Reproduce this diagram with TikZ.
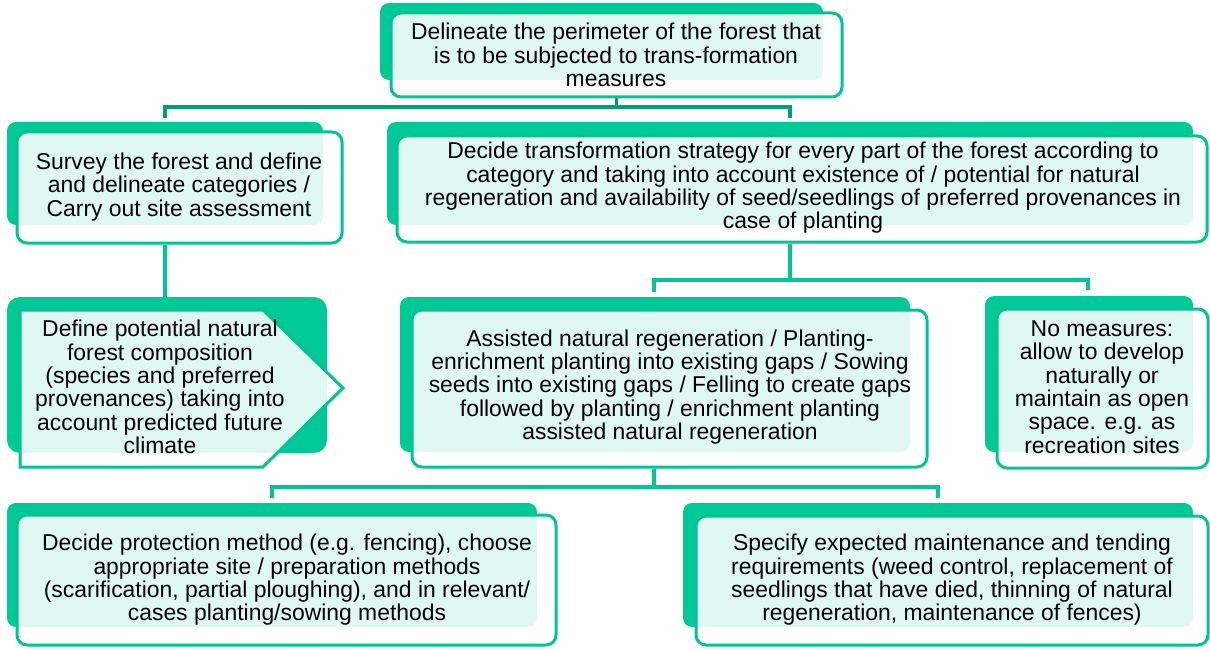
\documentclass[tikz,border=0pt]{standalone}
\usepackage{fontspec}
\setmainfont{Liberation Sans}
\usetikzlibrary{fit}
\definecolor{gback}{RGB}{0,200,150}
\definecolor{gline}{RGB}{0,196,148}
\definecolor{gdark}{RGB}{0,158,115}
\begin{document}
\begin{tikzpicture}[x=1pt,y=-1pt,
  back/.style={fill=gback, draw=none, rounded corners=9pt, inner sep=0pt},
  front/.style={draw=gline, line width=3pt, fill=white, fill opacity=0.88, rounded corners=10pt, inner sep=0pt},
  txt/.style={align=center, font=\fontsize{22.9}{23.3}\selectfont, text=black, inner sep=0pt},
  conn/.style={draw=gline, line width=3.2pt},
  connD/.style={draw=gdark, line width=3.2pt}]
\useasboundingbox (0,0) rectangle (1210,650);

% anchor coordinates for connectors
\coordinate (j1) at (616,107);
\coordinate (s2) at (165,118);
\coordinate (s3) at (790,118);
\coordinate (a2) at (165,0);
\coordinate (j3) at (790,280);
\coordinate (s5) at (654,292);
\coordinate (s6) at (1088,290);
\coordinate (j5) at (654,487);
\coordinate (s7) at (272,498);
\coordinate (s8) at (938,498);

% back boxes
\fill[back] (380,3) rectangle (823,80);
\fill[back] (7,122) rectangle (323,225);
\fill[back] (387,122) rectangle (1193,225);
\fill[back, rounded corners=13pt] (7,297) rectangle (327,453);
\fill[back] (400,297) rectangle (910,452);
\fill[back] (985,296) rectangle (1193,452);
\fill[back] (7,503) rectangle (537,627);
\fill[back] (683,503) rectangle (1193,627);

% front boxes
\node[front, fit={(391,13)(842,97)}] (f1) {};
\node[front, fit={(17,132)(342,243)}] (f2) {};
\node[front, fit={(397,136)(1207,242)}] (f3) {};
\path[front, rounded corners=0pt] (20,310) -- (263,310) -- (343,388) -- (263,467) -- (20,467) -- cycle;
\node[front, fit={(412,310)(927,467)}] (f5) {};
\node[front, fit={(997,309)(1208,468)}] (f6) {};
\node[front, fit={(17,515)(556,645)}] (f7) {};
\node[front, fit={(696,516)(1208,645)}] (f8) {};

% connectors
\draw[connD] (f1.south) -- (f1.south |- j1);
\draw[connD] (s2) |- (j1) -| (s3);
\draw[conn] (f2.south -| a2) -- (165,297);
\draw[conn] (f3.south -| j3) -- (j3);
\draw[conn] (s5) |- (j3) -| (s6);
\draw[conn] (f5.south -| j5) -- (j5);
\draw[conn] (s7) |- (j5) -| (s8);

% texts
\node[txt] (t1) at (616,55) {Delineate the perimeter of the forest that\\is to be subjected to trans-formation\\measures};
\node[txt] (t2) at (179,187) {Survey the forest and define\\and delineate categories /\\Carry out site assessment};
\node[txt] (t3) at (803,188) {Decide transformation strategy for every part of the forest according to\\category and taking into account existence of / potential for natural\\regeneration and availability of seed/seedlings of preferred provenances in\\case of planting};
\node[txt] (t4) at (160,387) {Define potential natural\\forest composition\\(species and preferred\\provenances) taking into\\account predicted future\\climate};
\node[txt] (t5) at (670,387) {Assisted natural regeneration / Planting-\\enrichment planting into existing gaps / Sowing\\seeds into existing gaps / Felling to create gaps\\followed by planting / enrichment planting\\assisted natural regeneration};
\node[txt] (t6) at (1102,387) {No measures:\\allow to develop\\naturally or\\maintain as open\\space. e.g. as\\recreation sites};
\node[txt] (t7) at (287,580) {Decide protection method (e.g. fencing), choose\\appropriate site / preparation methods\\(scarification, partial ploughing), and in relevant/\\cases planting/sowing methods};
\node[txt] (t8) at (952,580) {Specify expected maintenance and tending\\requirements (weed control, replacement of\\seedlings that have died, thinning of natural\\regeneration, maintenance of fences)};
\end{tikzpicture}
\end{document}
